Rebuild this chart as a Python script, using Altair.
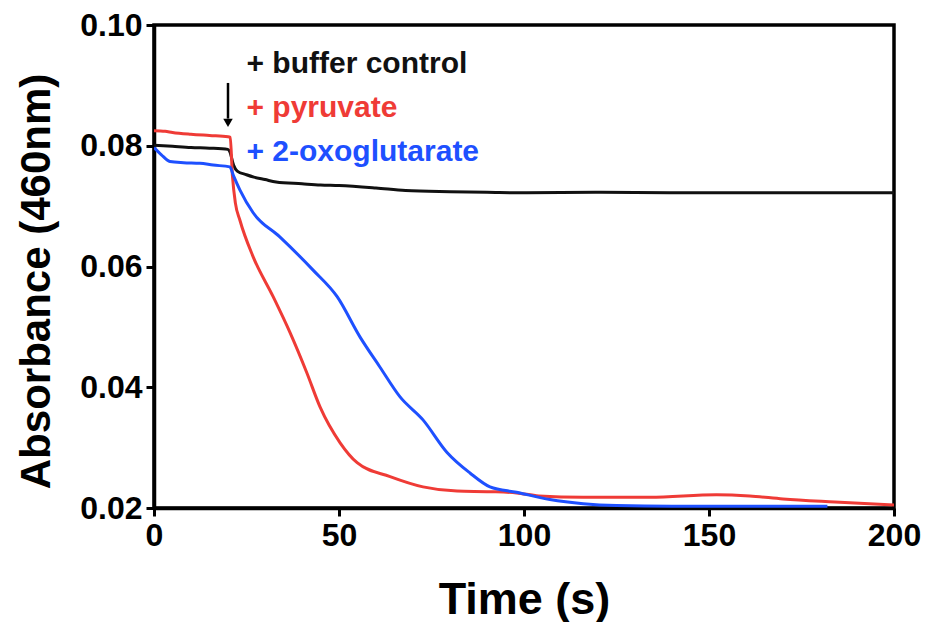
import altair as alt
import pandas as pd

# ---- data ----
series_names = ["+ buffer control", "+ pyruvate", "+ 2-oxoglutarate"]
series_colors = ["#111111", "#EF3B36", "#1E50FF"]

ctrl_t = [0, 5, 10, 15, 20, 20.5, 21.5, 22.5, 25, 27, 30, 33, 40, 45, 50, 60, 68, 80, 90, 100, 120, 140, 160, 180, 200]
ctrl_v = [0.0801, 0.0799, 0.0797, 0.0796, 0.0794, 0.0790, 0.0768, 0.0758, 0.0752, 0.0748, 0.0744, 0.0740, 0.0737,
          0.0735, 0.0734, 0.0730, 0.0726, 0.0724, 0.0723, 0.0722, 0.0723, 0.0722, 0.0722, 0.0722, 0.0722]

pyr_t = [0, 3, 5, 10, 15, 20, 20.6, 21.2, 22.0, 23.2, 26.8, 32.2, 36.8, 41.3, 44.9, 50.3, 54.9, 63.8, 72.7, 81.9,
         90.8, 98, 104, 116, 134, 152, 161, 170, 184, 200]
pyr_v = [0.0825, 0.0824, 0.0822, 0.0819, 0.0817, 0.0815, 0.0814, 0.0750, 0.0705, 0.0677, 0.0616, 0.0550, 0.0490,
         0.0424, 0.0367, 0.0308, 0.0275, 0.0252, 0.0235, 0.0228, 0.0227, 0.0225, 0.0220, 0.0218, 0.0218, 0.0222,
         0.0220, 0.0215, 0.0210, 0.0205]

oxo_t = [0, 2, 4.3, 8, 12.4, 16, 20.5, 21.5, 23.2, 26.8, 34, 43, 49.5, 55.7, 61, 66.5, 72.7, 79.2, 85.4, 90.8, 98,
         107, 116, 125, 140, 160, 182]
oxo_v = [0.0797, 0.0785, 0.0774, 0.0772, 0.0771, 0.0768, 0.0765, 0.0750, 0.0727, 0.0689, 0.0649, 0.0594, 0.0550,
         0.0483, 0.0434, 0.0384, 0.0346, 0.0292, 0.0258, 0.0235, 0.0226, 0.0214, 0.0207, 0.0204, 0.0203, 0.0203,
         0.0203]

x_ticks = [0, 50, 100, 150, 200]
y_ticks = [0.02, 0.04, 0.06, 0.08, 0.10]

legend_t = [25, 25, 25]
legend_v = [0.0921, 0.0848, 0.0775]

arrow_t = [20]
arrow_top = [0.0904]
arrow_bottom = [0.0845]
arrow_head = [0.0838]

# ---- tables ----
rows = []
for name, ts, vs in zip(series_names, [ctrl_t, pyr_t, oxo_t], [ctrl_v, pyr_v, oxo_v]):
    for t, v in zip(ts, vs):
        rows.append({"series": name, "t": t, "v": v})
df = pd.DataFrame(rows)

legend_df = pd.DataFrame({"series": series_names, "t": legend_t, "v": legend_v})
arrow_df = pd.DataFrame({"t": arrow_t, "v": arrow_top, "v2": arrow_bottom, "h": arrow_head})

FONT = "Liberation Sans"

xscale = alt.Scale(domain=[0, 200], nice=False, zero=False)
yscale = alt.Scale(domain=[0.02, 0.10], nice=False, zero=False)
cscale = alt.Scale(domain=series_names, range=series_colors)

x_enc = alt.X("t:Q", scale=xscale,
              axis=alt.Axis(values=x_ticks, title="Time (s)", format="d",
                            titleFontSize=45, titleY=105, titleBaseline="alphabetic",
                            labelPadding=4, labelFlush=False))
y_enc = alt.Y("v:Q", scale=yscale,
              axis=alt.Axis(values=y_ticks, title="Absorbance (460nm)", format=".2f",
                            titleFontSize=42, titleX=-105, titleY=256, titleAngle=270,
                            titleBaseline="alphabetic", labelPadding=4, labelFlush=False))

layers = []
for name in series_names:
    layers.append(
        alt.Chart(df).transform_filter(alt.datum.series == name)
        .mark_line(strokeWidth=3, clip=True, interpolate="monotone")
        .encode(x=x_enc, y=y_enc,
                color=alt.Color("series:N", scale=cscale, legend=None),
                order="t:Q")
    )

legend = alt.Chart(legend_df).mark_text(
    align="left", baseline="alphabetic", font=FONT, fontWeight="bold", fontSize=30
).encode(
    x=alt.X("t:Q", scale=xscale), y=alt.Y("v:Q", scale=yscale), text="series:N",
    color=alt.Color("series:N", scale=cscale, legend=None)
)

arrow_shaft = alt.Chart(arrow_df).mark_rule(color="black", strokeWidth=2.5).encode(
    x=alt.X("t:Q", scale=xscale), y=alt.Y("v:Q", scale=yscale), y2="v2:Q"
)
arrow_tip = alt.Chart(arrow_df).mark_point(
    shape="triangle-down", filled=True, color="black", size=90, opacity=1
).encode(x=alt.X("t:Q", scale=xscale), y=alt.Y("h:Q", scale=yscale))

chart = alt.layer(*layers, arrow_shaft, arrow_tip, legend).properties(
    width=740, height=483,
    autosize=alt.AutoSizeParams(type="none"),
    padding={"left": 154, "top": 25, "right": 35, "bottom": 114},
    background="white",
).configure_view(
    stroke="black", strokeWidth=3.5
).configure_axis(
    grid=False, domainColor="black", domainWidth=3.5, tickColor="black", tickWidth=3,
    tickSize=8, labelFont=FONT, labelFontWeight="bold", labelFontSize=32, labelColor="black",
    titleFont=FONT, titleFontWeight="bold", titleColor="black"
)

chart.save("out.html", embed_options={"renderer": "svg", "actions": False})
